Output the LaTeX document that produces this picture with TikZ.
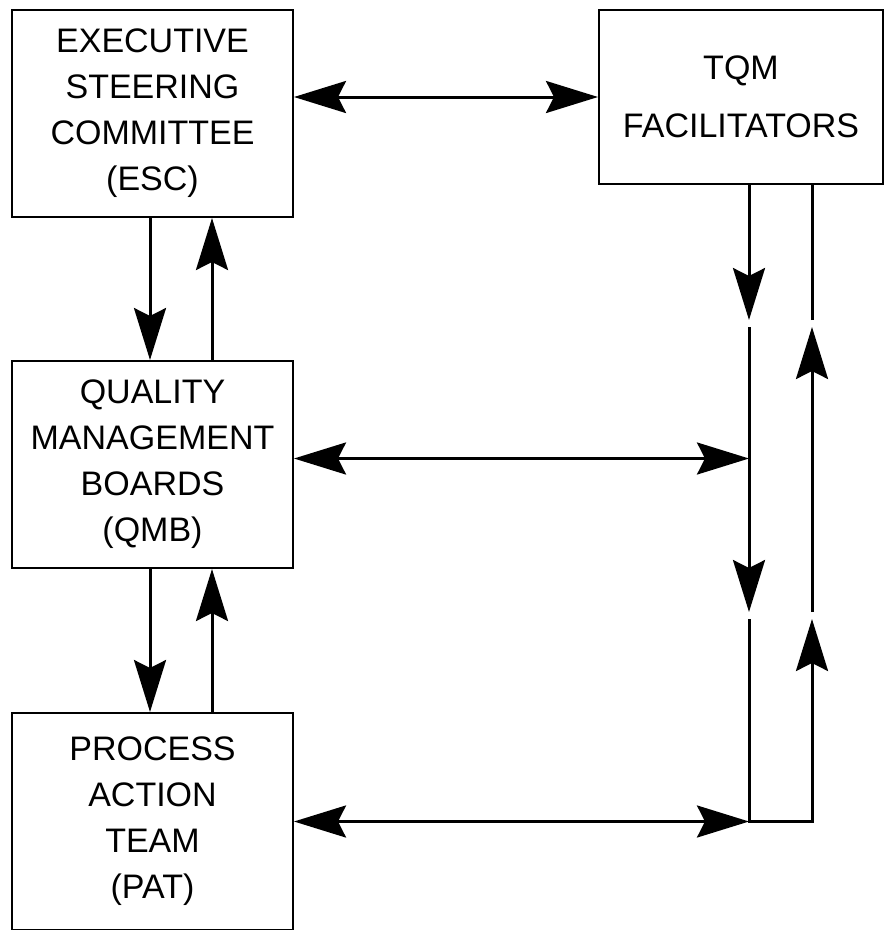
\documentclass[tikz,border=0pt]{standalone}
\usepackage{fontspec}
\setmainfont{Liberation Sans}
\usetikzlibrary{positioning,arrows.meta}

\begin{document}
\begin{tikzpicture}[x=1pt, y=1pt, font=\fontsize{34}{46}\selectfont, box/.style={draw, line width=2pt, align=center, minimum width=281pt, inner sep=0pt}, link/.style={line width=3pt}, flow/.style={link, -{Stealth[length=52pt, width=32pt, inset=8pt]}}, flowboth/.style={link, {Stealth[length=52pt, width=32pt, inset=8pt]}-{Stealth[length=52pt, width=32pt, inset=8pt]}}]
\useasboundingbox (0,0) rectangle (891,-930);
\node[box, minimum height=207pt] (esc) at (152.5,-113.5) {EXECUTIVE\\STEERING\\COMMITTEE\\(ESC)};
\node[box, minimum height=207pt, below=142pt of esc] (qmb) {QUALITY\\MANAGEMENT\\BOARDS\\(QMB)};
\node[box, minimum height=217pt, below=143pt of qmb] (pat) {PROCESS\\ACTION\\TEAM\\(PAT)};
\node[box, minimum width=284pt, minimum height=174pt, anchor=north west] (tqm) at (598,-9) {TQM\\[12pt]FACILITATORS};
\coordinate (ltop) at ([xshift=151pt]tqm.south west);
\coordinate (rtop) at ([xshift=214pt]tqm.south west);
\coordinate (la) at (749,-320);
\coordinate (lb) at (749,-327);
\coordinate (lc) at (749,-612);
\coordinate (ld) at (749,-619);
\coordinate (ra) at (812,-320);
\coordinate (rb) at (812,-327);
\coordinate (rc) at (812,-612);
\coordinate (rd) at (812,-619);
\draw[flowboth] (esc.east |- tqm.west) -- (tqm.west);
\draw[flow] ([xshift=-2.5pt]esc.south) -- ([xshift=-2.5pt]qmb.north);
\draw[flow] ([xshift=59.5pt]qmb.north) -- ([xshift=59.5pt]esc.south);
\draw[flow] ([xshift=-2.5pt]qmb.south) -- ([xshift=-2.5pt]pat.north);
\draw[flow] ([xshift=59.5pt]pat.north) -- ([xshift=59.5pt]qmb.south);
\draw[flowboth] ([yshift=6pt]qmb.east) -- ([yshift=6pt]qmb.east -| ltop);
\draw[flowboth] (pat.east) -- (pat.east -| ltop);
\draw[flow] (ltop) -- (la);
\draw[flow] (lb) -- (lc);
\draw[flow] (ld) |- (rd |- pat.east) -- (rd);
\draw[flow] (rc) -- (rb);
\draw[link] (ra) -- (rtop);
\end{tikzpicture}
\end{document}
